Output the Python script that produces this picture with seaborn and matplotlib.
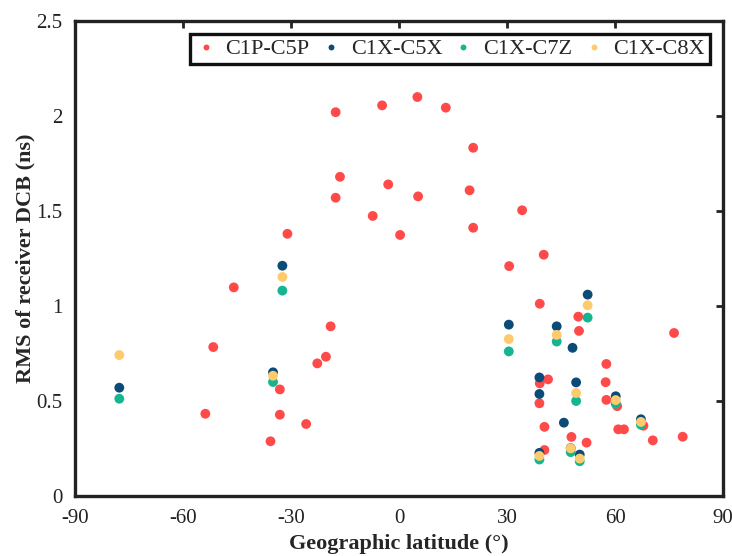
import matplotlib
matplotlib.use("Agg")
import matplotlib.pyplot as plt
import seaborn as sns
import pandas as pd

# RMS of receiver DCB per station, by geographic latitude
lat_c1p_c5p = [-53.8, -51.6, -45.9, -35.7, -33.1, -33.1, -31.0, -25.8, -22.7, -20.3,
               -19.0, -17.6, -17.6, -16.4, -7.3, -4.7, -3.0, 0.3, 5.1, 5.3,
               13.0, 19.6, 20.6, 20.6, 30.6, 34.2, 39.1, 40.2, 39.1, 41.4,
               39.0, 40.4, 40.4, 47.9, 49.8, 50.0, 52.1, 57.6, 57.4, 57.6,
               60.6, 60.9, 62.5, 67.9, 70.5, 76.4, 78.8]
rms_c1p_c5p = [0.433, 0.784, 1.098, 0.288, 0.561, 0.428, 1.380, 0.379, 0.698, 0.733,
               0.893, 2.020, 1.570, 1.680, 1.474, 2.056, 1.640, 1.374, 2.100, 1.577,
               2.044, 1.609, 1.833, 1.412, 1.210, 1.504, 1.012, 1.270, 0.593, 0.614,
               0.488, 0.364, 0.242, 0.311, 0.944, 0.869, 0.281, 0.695, 0.599, 0.506,
               0.473, 0.351, 0.351, 0.370, 0.293, 0.858, 0.312]

lat_c1x = [-77.7, -35.0, -32.4, 30.5, 39.0, 39.0, 39.0, 43.8, 45.8, 47.7,
           48.2, 49.2, 50.2, 52.4, 60.2, 67.2]
rms_c1x_c5x = [0.570, 0.651, 1.212, 0.902, 0.624, 0.537, 0.227, 0.893, 0.386, 0.252,
               0.780, 0.598, 0.218, 1.060, 0.525, 0.404]
lat_c1x_c7z = [-77.7, -35.0, -32.4, 30.5, 39.0, 47.7, 49.2, 50.2, 52.4, 60.2, 67.2, 43.8]
rms_c1x_c7z = [0.512, 0.600, 1.081, 0.761, 0.192, 0.231, 0.500, 0.183, 0.939, 0.486, 0.375, 0.813]
lat_c1x_c8x = [-77.7, -35.0, -32.4, 30.5, 39.0, 47.7, 49.2, 50.2, 52.4, 60.2, 67.2, 43.8]
rms_c1x_c8x = [0.742, 0.633, 1.153, 0.826, 0.211, 0.251, 0.542, 0.197, 1.004, 0.505, 0.390, 0.848]

series = ["C1P-C5P", "C1X-C5X", "C1X-C7Z", "C1X-C8X"]
colors = ["#FF4A4A", "#0C4B78", "#14B590", "#FDCB6E"]

df = pd.concat([
    pd.DataFrame({"lat": lat_c1p_c5p, "rms": rms_c1p_c5p, "pair": series[0]}),
    pd.DataFrame({"lat": lat_c1x, "rms": rms_c1x_c5x, "pair": series[1]}),
    pd.DataFrame({"lat": lat_c1x_c7z, "rms": rms_c1x_c7z, "pair": series[2]}),
    pd.DataFrame({"lat": lat_c1x_c8x, "rms": rms_c1x_c8x, "pair": series[3]}),
], ignore_index=True)

sns.set_style("white")
plt.rcParams["font.family"] = ["Liberation Serif", "DejaVu Serif"]

fig = plt.figure(figsize=(7.32, 5.56), dpi=100)
ax = fig.add_axes([0.1025, 0.1079, 0.8852, 0.8543])

sns.scatterplot(data=df, x="lat", y="rms", hue="pair", hue_order=series,
                palette=colors, s=50, linewidth=0, ax=ax, legend=True)

ax.set_xlim(-90, 90)
ax.set_ylim(0, 2.5)
ax.set_xticks([-90, -60, -30, 0, 30, 60, 90])
ax.set_xticklabels(["-90", "-60", "-30", "0", "30", "60", "90"])
ax.set_yticks([0, 0.5, 1, 1.5, 2, 2.5])
ax.set_yticklabels(["0", "0.5", "1", "1.5", "2", "2.5"])
ax.tick_params(direction="in", length=5, width=2, top=True, right=True,
               labelsize=15, pad=9, colors="#222222", labelcolor="#222222")
for sp in ax.spines.values():
    sp.set_linewidth(2.4)
    sp.set_color("#222222")

ax.set_xlabel("Geographic latitude (°)", fontsize=16, fontweight="bold", labelpad=5)
ax.set_ylabel("RMS of receiver DCB (ns)", fontsize=16, fontweight="bold", labelpad=1)

leg = ax.legend(loc="upper right", ncol=4, fontsize=16, frameon=True, fancybox=False,
                markerscale=0.6, handletextpad=0.4, columnspacing=0.45,
                borderpad=0.2, handlelength=1.0, borderaxespad=0.6,
                bbox_to_anchor=(1.0, 1.0))
frame = leg.get_frame()
frame.set_edgecolor("#111111")
frame.set_linewidth(2.4)
frame.set_alpha(1)

fig.savefig("out.png", dpi=100)
